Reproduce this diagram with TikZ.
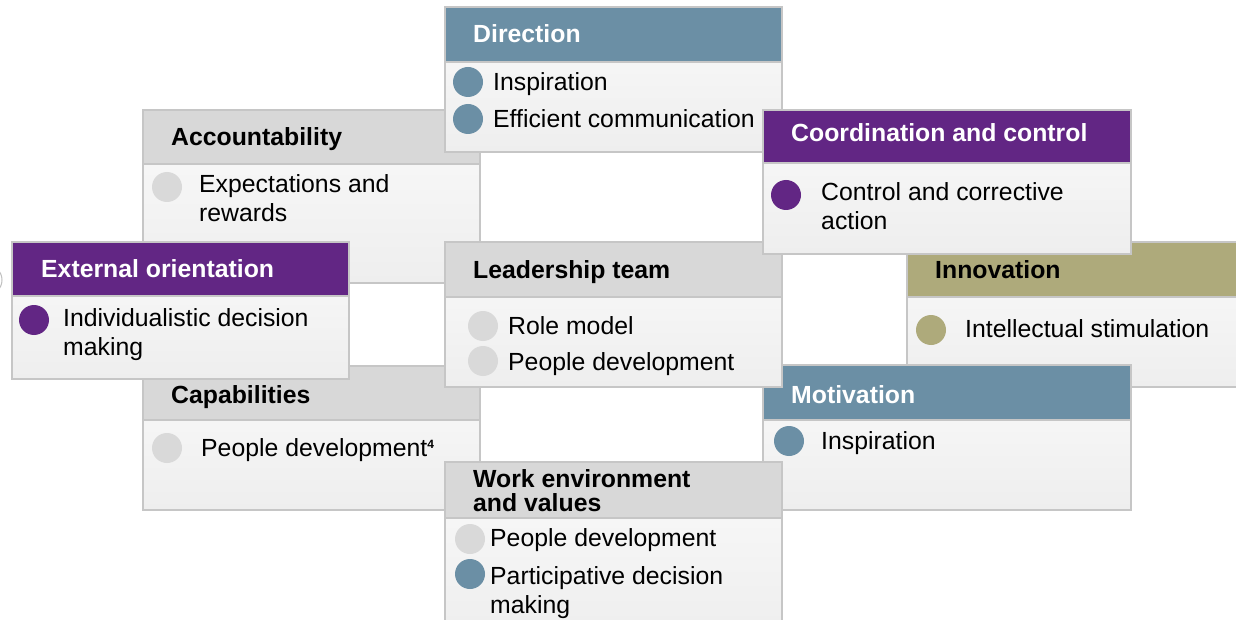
\documentclass[tikz,border=0pt]{standalone}
\usepackage{fontspec}
\setmainfont{Liberation Sans}
\definecolor{cblue}{HTML}{6B8FA5}
\definecolor{cpurple}{HTML}{622684}
\definecolor{colive}{HTML}{AEAA7B}
\definecolor{cgrey}{HTML}{D8D8D8}
\definecolor{cdotgrey}{HTML}{D9D9D9}
\definecolor{cborder}{HTML}{C6C6C6}
\definecolor{cbodytop}{HTML}{FAFAFA}
\definecolor{cbodybot}{HTML}{EEEEEE}
\newcommand\hdfont{\fontsize{24.8}{22}\selectfont\bfseries}
\newcommand\itfont{\fontsize{24.8}{29}\selectfont}
\newcommand\mylines[1]{\begin{tabular}[t]{@{}l@{}}#1\end{tabular}}
\newcommand\mysupfour{\raisebox{8pt}{\fontsize{12}{12}\selectfont\bfseries 4}}
\tikzset{
  bodybox/.style={draw=cborder, line width=1.5pt, top color=cbodytop, bottom color=cbodybot,
    anchor=north west, inner sep=0pt, outer sep=0pt, rectangle},
  headbox/.style={draw=cborder, line width=1.5pt, anchor=north west, inner sep=0pt, outer sep=0pt, rectangle},
  htext/.style={anchor=base west, inner sep=0pt, font=\hdfont},
  itext/.style={anchor=base west, inner sep=0pt, font=\itfont, text=black},
  dot/.style={circle, inner sep=0pt, minimum size=30pt},
}
\begin{document}
\begin{tikzpicture}[x=1pt,y=-1pt]
\useasboundingbox[fill=white] (0,0) rectangle (1236,620);

% faint cut-off circle at left edge
\node[circle, draw=black!25, line width=1pt, minimum size=30pt] (cut) at (-13,280) {};

% Accountability
\node[bodybox, minimum width=337pt, minimum height=173pt] (accB) at (143,110) {};
\node[headbox, fill=cgrey, minimum width=337pt, minimum height=54pt] (accH) at (143,110) {};
\node[htext, text=black] (accT) at (171,146) {Accountability};
\node[dot, fill=cdotgrey] (acc1) at (167,187) {};
\node[itext] (acc1t) at (199,193) {\mylines{Expectations and\\rewards}};

% Capabilities
\node[bodybox, minimum width=337pt, minimum height=144pt] (capB) at (143,366) {};
\node[headbox, fill=cgrey, minimum width=337pt, minimum height=54pt] (capH) at (143,366) {};
\node[htext, text=black] (capT) at (171,403) {Capabilities};
\node[dot, fill=cdotgrey] (cap1) at (167,448) {};
\node[itext] (cap1t) at (201,456) {People development\mysupfour};

% Innovation
\node[bodybox, minimum width=345pt, minimum height=145pt] (innB) at (907,242) {};
\node[headbox, fill=colive, minimum width=345pt, minimum height=55pt] (innH) at (907,242) {};
\node[htext, text=black] (innT) at (935,278) {Innovation};
\node[dot, fill=colive] (inn1) at (931,330) {};
\node[itext] (inn1t) at (965,337) {Intellectual stimulation};

% Direction
\node[bodybox, minimum width=337pt, minimum height=145pt] (dirB) at (445,7) {};
\node[headbox, fill=cblue, minimum width=337pt, minimum height=55pt] (dirH) at (445,7) {};
\node[htext, text=white] (dirT) at (473,43) {Direction};
\node[dot, fill=cblue] (dir1) at (468,82) {};
\node[itext] (dir1t) at (493,91) {Inspiration};
\node[dot, fill=cblue] (dir2) at (468,119) {};
\node[itext] (dir2t) at (493,128) {Efficient communication};

% Motivation
\node[bodybox, minimum width=368pt, minimum height=145pt] (motB) at (763,365) {};
\node[headbox, fill=cblue, minimum width=368pt, minimum height=55pt] (motH) at (763,365) {};
\node[htext, text=white] (motT) at (791,403) {Motivation};
\node[dot, fill=cblue] (mot1) at (789,441) {};
\node[itext] (mot1t) at (821,449) {Inspiration};

% Leadership team
\node[bodybox, minimum width=337pt, minimum height=145pt] (leaB) at (445,242) {};
\node[headbox, fill=cgrey, minimum width=337pt, minimum height=55pt] (leaH) at (445,242) {};
\node[htext, text=black] (leaT) at (473,278) {Leadership team};
\node[dot, fill=cdotgrey] (lea1) at (483,326) {};
\node[itext] (lea1t) at (508,334) {Role model};
\node[dot, fill=cdotgrey] (lea2) at (483,361) {};
\node[itext] (lea2t) at (508,370) {People development};

% Coordination and control
\node[bodybox, minimum width=368pt, minimum height=144pt] (coB) at (763,110) {};
\node[headbox, fill=cpurple, minimum width=368pt, minimum height=53pt] (coH) at (763,110) {};
\node[htext, text=white] (coT) at (791,142) {Coordination and control};
\node[dot, fill=cpurple] (co1) at (786,195) {};
\node[itext] (co1t) at (821,201) {\mylines{Control and corrective\\action}};

% Work environment and values
\node[bodybox, minimum width=337pt, minimum height=175pt] (wrkB) at (445,462) {};
\node[headbox, fill=cgrey, minimum width=337pt, minimum height=56pt] (wrkH) at (445,462) {};
\node[htext, text=black] (wrkT) at (473,487) {\mylines{Work environment\\and values}};
\node[dot, fill=cdotgrey] (wrk1) at (470,539) {};
\node[itext] (wrk1t) at (490,546) {People development};
\node[dot, fill=cblue] (wrk2) at (470,574) {};
\node[itext] (wrk2t) at (490,584) {\mylines{Participative decision\\making}};

% External orientation
\node[bodybox, minimum width=337pt, minimum height=137pt] (extB) at (12,242) {};
\node[headbox, fill=cpurple, minimum width=337pt, minimum height=54pt] (extH) at (12,242) {};
\node[htext, text=white] (extT) at (41,277) {External orientation};
\node[dot, fill=cpurple] (ext1) at (34,320) {};
\node[itext] (ext1t) at (63,326) {\mylines{Individualistic decision\\making}};
\end{tikzpicture}
\end{document}
